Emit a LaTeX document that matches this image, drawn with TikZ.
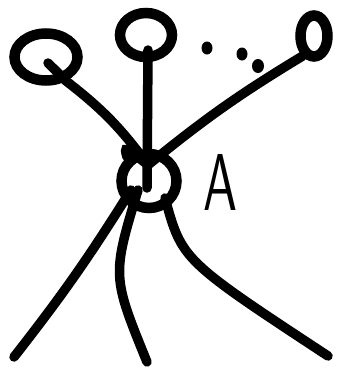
\documentclass[tikz,border=0pt]{standalone}
\usepackage{tikz}
\usetikzlibrary{shapes.geometric, positioning}

\begin{document}
\begin{tikzpicture}[
    x=1pt, y=-1pt,
    ring/.style={draw, ellipse, line width=10.5pt, inner sep=0pt},
    stem/.style={line width=9.5pt, line cap=round},
    label/.style={inner sep=0pt, font=\sffamily}
]
    \useasboundingbox (0,0) rectangle (341,370);

    \node[ring, minimum width=63pt, minimum height=47pt] (left) at (46,57) {};
    \node[ring, minimum width=52pt, minimum height=44pt] (mid) at (146,35) {};
    \node[ring, minimum width=27pt, minimum height=41pt] (right) at (314,36) {};
    \node[ring, minimum width=55pt, minimum height=54pt] (hub) at (149,181) {};

    \coordinate (knot) at (148,165);
    \coordinate (footl) at (14,357);
    \coordinate (footm) at (147,362);
    \coordinate (footr) at (328,356);

    \node[label] (a) at (221,182) {\resizebox{34pt}{56pt}{A}};

    \fill (207,48) ellipse (5.5pt and 6.5pt);
    \fill (242,54) ellipse (5.5pt and 6.5pt);
    \fill (258,66) ellipse (6pt and 7pt);

    \draw[stem] (48,63) -- (left.-50) to[bend left=8] (knot);
    \draw[stem] (148,50) -- (147,188);
    \draw[stem] (right.-120) to[bend right=4] (knot);
    \draw[stem] (knot) .. controls (124,146) .. (127,157);
    \draw[stem] (131,190) to[bend left=3] (footl);
    \draw[stem] (138,190) .. controls (112,276) .. (footm);
    \draw[stem] (165,198) .. controls (182,260) .. (footr);
\end{tikzpicture}
\end{document}
